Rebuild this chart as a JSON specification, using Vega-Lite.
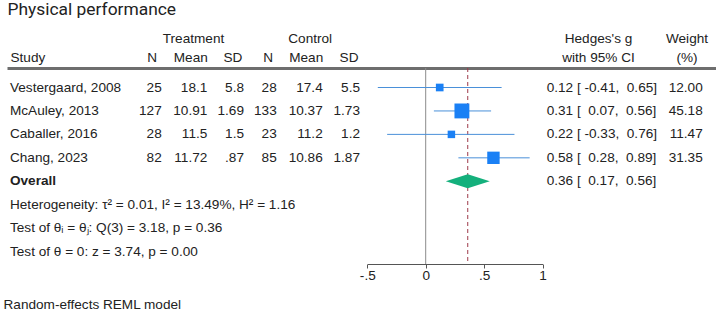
{
  "$schema": "https://vega.github.io/schema/vega-lite/v6.json",
  "width": 716,
  "height": 196,
  "autosize": {"type": "none"},
  "padding": {"left": 0, "right": 0, "top": 68, "bottom": 46},
  "background": "white",
  "config": {
    "view": {"stroke": null},
    "text": {"font": "Liberation Sans", "fontSize": 13.6, "color": "#222222"},
    "axis": {"labelFont": "Liberation Sans", "titleFont": "Liberation Sans", "labelFontSize": 13.6, "titleFontSize": 13.6, "labelColor": "#222222", "titleColor": "#222222", "titleFontWeight": "normal", "grid": false, "labelFlush": false, "labelOverlap": false, "labelAngle": 0}
  },
  "datasets": {
    "studies": [
      {"study": "Vestergaard, 2008", "tN": 25, "tMean": "18.1", "tSD": "5.8", "cN": 28, "cMean": "17.4", "cSD": "5.5", "g": 0.12, "lo": -0.41, "hi": 0.65, "ci": "0.12 [ -0.41,\u00a0\u00a00.65]", "weight": 12.00},
      {"study": "McAuley, 2013", "tN": 127, "tMean": "10.91", "tSD": "1.69", "cN": 133, "cMean": "10.37", "cSD": "1.73", "g": 0.31, "lo": 0.07, "hi": 0.56, "ci": "0.31 [\u00a0\u00a00.07,\u00a0\u00a00.56]", "weight": 45.18},
      {"study": "Caballer, 2016", "tN": 28, "tMean": "11.5", "tSD": "1.5", "cN": 23, "cMean": "11.2", "cSD": "1.2", "g": 0.22, "lo": -0.33, "hi": 0.76, "ci": "0.22 [ -0.33,\u00a0\u00a00.76]", "weight": 11.47},
      {"study": "Chang, 2023", "tN": 82, "tMean": "11.72", "tSD": ".87", "cN": 85, "cMean": "10.86", "cSD": "1.87", "g": 0.58, "lo": 0.28, "hi": 0.89, "ci": "0.58 [\u00a0\u00a00.28,\u00a0\u00a00.89]", "weight": 31.35}
    ],
    "overall": [
      {"study": "Overall", "g": 0.36, "lo": 0.17, "hi": 0.56, "ci": "0.36 [\u00a0\u00a00.17,\u00a0\u00a00.56]"}
    ],
    "notes": [
      {"item": "Heterogeneity", "text": "Heterogeneity: τ² = 0.01, I² = 13.49%, H² = 1.16"},
      {"item": "Homogeneity test", "text": "Test of θᵢ = θⱼ: Q(3) = 3.18, p = 0.36"},
      {"item": "Effect test", "text": "Test of θ = 0: z = 3.74, p = 0.00"}
    ]
  },
  "layer": [
    {
      "data": {"name": "studies"},
      "mark": {"type": "text", "align": "left", "baseline": "middle"},
      "encoding": {
        "x": {"datum": "Study", "type": "nominal",
          "scale": {"type": "point", "domain": ["Study"], "range": [7, 716], "padding": 0, "align": 0.0042},
          "axis": {"orient": "top", "title": "Physical performance", "titleFont": "Roboto", "titleFontSize": 17.4, "titleX": 7, "titleY": -53.5, "titleAlign": "left", "titleBaseline": "alphabetic", "domain": true, "domainColor": "#6e6e6e", "domainWidth": 3, "ticks": false, "labelAngle": 0, "labelAlign": "left", "labelBaseline": "bottom", "labelPadding": 4}},
        "y": {"field": "study", "type": "nominal",
          "scale": {"type": "point", "domain": ["Vestergaard, 2008", "McAuley, 2013", "Caballer, 2016", "Chang, 2023", "Overall", "Heterogeneity", "Homogeneity test", "Effect test"], "range": [19.5, 183.6], "padding": 0},
          "axis": null},
        "text": {"field": "study"}
      }
    },
    {
      "data": {"name": "overall"},
      "mark": {"type": "text", "align": "left", "baseline": "middle", "fontWeight": "bold"},
      "encoding": {
        "x": {"datum": "Study", "type": "nominal", "scale": {"type": "point", "domain": ["Study"], "range": [7, 716], "padding": 0, "align": 0.0042}, "axis": null},
        "y": {"field": "study", "type": "nominal", "axis": null},
        "text": {"field": "study"}
      }
    },
    {
      "data": {"name": "notes"},
      "mark": {"type": "text", "align": "left", "baseline": "middle"},
      "encoding": {
        "x": {"datum": "Study", "type": "nominal", "scale": {"type": "point", "domain": ["Study"], "range": [7, 716], "padding": 0, "align": 0.0042}, "axis": null},
        "y": {"field": "item", "type": "nominal", "axis": null},
        "text": {"field": "text"}
      }
    },
    {
      "data": {"name": "studies"},
      "mark": {"type": "text", "align": "right", "baseline": "middle"},
      "encoding": {
        "x": {"datum": "N", "type": "nominal", "scale": {"type": "point", "domain": ["N"], "range": [161.7, 161.7], "padding": 0},
          "axis": {"orient": "top", "title": null, "domain": false, "ticks": false, "labelAngle": 0, "labelAlign": "right", "labelBaseline": "bottom", "labelPadding": 4, "labelOffset": -5}},
        "y": {"field": "study", "type": "nominal", "axis": null},
        "text": {"field": "tN"}
      }
    },
    {
      "data": {"name": "studies"},
      "mark": {"type": "text", "align": "right", "baseline": "middle"},
      "encoding": {
        "x": {"datum": "Mean", "type": "nominal", "scale": {"type": "point", "domain": ["Mean"], "range": [207.3, 207.3], "padding": 0},
          "axis": {"orient": "top", "title": "Treatment", "titleX": 193, "titleY": -29.5, "titleAlign": "center", "titleBaseline": "middle", "domain": false, "ticks": false, "labelAngle": 0, "labelAlign": "right", "labelBaseline": "bottom", "labelPadding": 4}},
        "y": {"field": "study", "type": "nominal", "axis": null},
        "text": {"field": "tMean"}
      }
    },
    {
      "data": {"name": "studies"},
      "mark": {"type": "text", "align": "right", "baseline": "middle"},
      "encoding": {
        "x": {"datum": "SD", "type": "nominal", "scale": {"type": "point", "domain": ["SD"], "range": [244, 244], "padding": 0},
          "axis": {"orient": "top", "title": null, "domain": false, "ticks": false, "labelAngle": 0, "labelAlign": "right", "labelBaseline": "bottom", "labelPadding": 4, "labelOffset": -2.2}},
        "y": {"field": "study", "type": "nominal", "axis": null},
        "text": {"field": "tSD"}
      }
    },
    {
      "data": {"name": "studies"},
      "mark": {"type": "text", "align": "right", "baseline": "middle"},
      "encoding": {
        "x": {"datum": "N", "type": "nominal", "scale": {"type": "point", "domain": ["N"], "range": [276.7, 276.7], "padding": 0},
          "axis": {"orient": "top", "title": null, "domain": false, "ticks": false, "labelAngle": 0, "labelAlign": "right", "labelBaseline": "bottom", "labelPadding": 4, "labelOffset": -4}},
        "y": {"field": "study", "type": "nominal", "axis": null},
        "text": {"field": "cN"}
      }
    },
    {
      "data": {"name": "studies"},
      "mark": {"type": "text", "align": "right", "baseline": "middle"},
      "encoding": {
        "x": {"datum": "Mean", "type": "nominal", "scale": {"type": "point", "domain": ["Mean"], "range": [322.7, 322.7], "padding": 0},
          "axis": {"orient": "top", "title": "Control", "titleX": 309.7, "titleY": -29.5, "titleAlign": "center", "titleBaseline": "middle", "domain": false, "ticks": false, "labelAngle": 0, "labelAlign": "right", "labelBaseline": "bottom", "labelPadding": 4}},
        "y": {"field": "study", "type": "nominal", "axis": null},
        "text": {"field": "cMean"}
      }
    },
    {
      "data": {"name": "studies"},
      "mark": {"type": "text", "align": "right", "baseline": "middle"},
      "encoding": {
        "x": {"datum": "SD", "type": "nominal", "scale": {"type": "point", "domain": ["SD"], "range": [360, 360], "padding": 0},
          "axis": {"orient": "top", "title": null, "domain": false, "ticks": false, "labelAngle": 0, "labelAlign": "right", "labelBaseline": "bottom", "labelPadding": 4, "labelOffset": -2}},
        "y": {"field": "study", "type": "nominal", "axis": null},
        "text": {"field": "cSD"}
      }
    },
    {
      "data": {"name": "overall"},
      "mark": {"type": "rule", "color": "#8c8c8c", "strokeWidth": 1},
      "encoding": {
        "x": {"datum": 0, "type": "quantitative", "scale": {"type": "linear", "domain": [-0.5, 1], "range": [367.3, 542.5], "nice": false, "zero": false}, "axis": null}
      }
    },
    {
      "data": {"name": "overall"},
      "mark": {"type": "rule", "color": "#9e3a4a", "strokeWidth": 1, "strokeDash": [4, 3]},
      "encoding": {
        "x": {"field": "g", "type": "quantitative", "scale": {"type": "linear", "domain": [-0.5, 1], "range": [367.3, 542.5], "nice": false, "zero": false}, "axis": null}
      }
    },
    {
      "data": {"name": "studies"},
      "mark": {"type": "rule", "color": "#4a90d9", "strokeWidth": 1},
      "encoding": {
        "x": {"field": "lo", "type": "quantitative", "scale": {"type": "linear", "domain": [-0.5, 1], "range": [367.3, 542.5], "nice": false, "zero": false}, "axis": null},
        "x2": {"field": "hi"},
        "y": {"field": "study", "type": "nominal", "axis": null}
      }
    },
    {
      "data": {"name": "studies"},
      "mark": {"type": "square", "filled": true, "color": "#1a80f5", "opacity": 1},
      "encoding": {
        "x": {"field": "g", "type": "quantitative",
          "scale": {"type": "linear", "domain": [-0.5, 1], "range": [367.3, 542.5], "nice": false, "zero": false},
          "axis": {"orient": "bottom", "values": [-0.5, 0, 0.5, 1], "labelExpr": "replace(toString(datum.value), '0.', '.')", "domain": true, "domainColor": "#555555", "domainWidth": 1, "ticks": true, "tickColor": "#555555", "tickSize": 4, "labelPadding": 0, "labelAngle": 0, "labelAlign": "center", "labelBaseline": "top", "title": "Random-effects REML model", "titleX": 3, "titleY": 40, "titleAlign": "left", "titleBaseline": "middle"}},
        "y": {"field": "study", "type": "nominal", "axis": null},
        "size": {"field": "weight", "type": "quantitative", "scale": {"domain": [0, 50], "range": [0, 245]}, "legend": null}
      }
    },
    {
      "data": {"name": "overall"},
      "mark": {"type": "point", "shape": "M-1,0L0,-0.32L1,0L0,0.32Z", "size": 1936, "filled": true, "color": "#14b07c", "opacity": 1, "strokeWidth": 0},
      "encoding": {
        "x": {"field": "g", "type": "quantitative", "scale": {"type": "linear", "domain": [-0.5, 1], "range": [367.3, 542.5], "nice": false, "zero": false}, "axis": null},
        "y": {"field": "study", "type": "nominal", "axis": null}
      }
    },
    {
      "data": {"name": "studies"},
      "mark": {"type": "text", "align": "left", "baseline": "middle"},
      "encoding": {
        "x": {"datum": "ci", "type": "nominal", "scale": {"type": "point", "domain": ["ci"], "range": [546.7, 546.7], "padding": 0},
          "axis": {"orient": "top", "title": null, "domain": false, "ticks": false, "labelAngle": 0, "labelAlign": "center", "labelBaseline": "bottom", "labelPadding": 23, "labelLineHeight": 19, "labelOffset": 51.3,
            "labelExpr": "[\"Hedges's g\", \"with 95% CI\"]"}},
        "y": {"field": "study", "type": "nominal", "axis": null},
        "text": {"field": "ci"}
      }
    },
    {
      "data": {"name": "overall"},
      "mark": {"type": "text", "align": "left", "baseline": "middle"},
      "encoding": {
        "x": {"datum": "ci", "type": "nominal", "scale": {"type": "point", "domain": ["ci"], "range": [546.7, 546.7], "padding": 0}, "axis": null},
        "y": {"field": "study", "type": "nominal", "axis": null},
        "text": {"field": "ci"}
      }
    },
    {
      "data": {"name": "studies"},
      "mark": {"type": "text", "align": "right", "baseline": "middle"},
      "encoding": {
        "x": {"datum": "w", "type": "nominal", "scale": {"type": "point", "domain": ["w"], "range": [702.7, 702.7], "padding": 0},
          "axis": {"orient": "top", "title": null, "domain": false, "ticks": false, "labelAngle": 0, "labelAlign": "center", "labelBaseline": "bottom", "labelPadding": 23, "labelLineHeight": 19, "labelOffset": -16.2,
            "labelExpr": "[\"Weight\", \"(%)\"]"}},
        "y": {"field": "study", "type": "nominal", "axis": null},
        "text": {"field": "weight", "type": "quantitative", "format": ".2f"}
      }
    }
  ],
  "resolve": {"scale": {"x": "independent"}, "axis": {"x": "independent"}}
}
